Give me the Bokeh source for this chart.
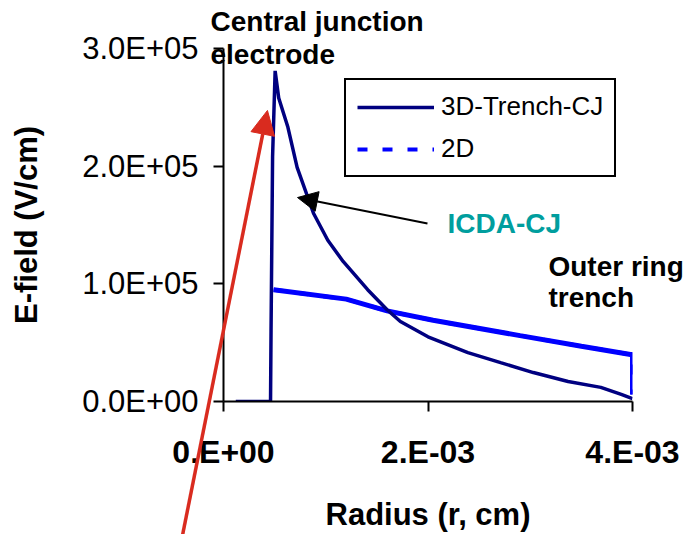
from bokeh.plotting import figure
from bokeh.layouts import column
from bokeh.models import (Range1d, FixedTicker, Legend, LegendItem, Label,
                          Arrow, NormalHead, ColumnDataSource)
from bokeh.embed import file_html
from bokeh.resources import INLINE

# Radius in units of 1e-3 cm, electric field in units of 1e5 V/cm
trench_r = [0.12, 0.46, 0.465, 0.48, 0.505, 0.54, 0.63, 0.72, 0.88, 1.02, 1.17,
            1.41, 1.60, 1.73, 2.00, 2.39, 2.71, 3.03, 3.37, 3.69, 3.89, 4.00]
trench_e = [0.0, 0.0, 0.6, 2.08, 2.81, 2.58, 2.33, 1.99, 1.60, 1.37, 1.19,
            0.95, 0.78, 0.68, 0.55, 0.415, 0.33, 0.246, 0.17, 0.12, 0.06, 0.025]

planar_r = [0.49, 1.2, 1.6, 2.05, 2.9, 3.5, 3.98, 4.0, 4.0]
planar_e = [0.95, 0.87, 0.77, 0.69, 0.56, 0.47, 0.40, 0.40, 0.06]

x_ticks = [0.0, 0.002, 0.004]
x_tick_labels = ["0.E+00", "2.E-03", "4.E-03"]
y_ticks = [0.0, 100000.0, 200000.0, 300000.0]
y_tick_labels = ["0.0E+00", "1.0E+05", "2.0E+05", "3.0E+05"]

FONT = "Liberation Sans"
NAVY = "#000080"
BLUE = "#0000FF"
RED = "#D92B1F"

# page and plot-frame geometry
W, H = 685, 534
LEFT, RIGHT, TOP, BOTTOM = 223, 53, 48, 132
X0, X1 = 0.0, 0.004
Y0, Y1 = 0.0, 300000.0

trench_src = ColumnDataSource(dict(r=[v * 1e-3 for v in trench_r],
                                   e=[v * 1e5 for v in trench_e]))
planar_src = ColumnDataSource(dict(r=[v * 1e-3 for v in planar_r],
                                   e=[v * 1e5 for v in planar_e]))

p = figure(width=W, height=H, output_backend="svg", toolbar_location=None,
           x_range=Range1d(X0, X1), y_range=Range1d(Y0, Y1),
           min_border_left=LEFT, min_border_right=RIGHT,
           min_border_top=TOP, min_border_bottom=BOTTOM)
p.frame_align = False
p.outline_line_color = None
p.xgrid.visible = False
p.ygrid.visible = False
p.background_fill_color = "white"
p.border_fill_color = "white"

# axes
for ax in (p.xaxis[0], p.yaxis[0]):
    ax.axis_line_color = "black"
    ax.axis_line_width = 2
    ax.major_tick_line_color = "black"
    ax.major_tick_line_width = 2
    ax.major_tick_out = 10
    ax.major_tick_in = 0
    ax.minor_tick_line_color = None
    ax.major_label_text_font = FONT
    ax.major_label_text_color = "black"
    ax.axis_label_text_font = FONT
    ax.axis_label_text_font_style = "bold"
    ax.axis_label_text_color = "black"

p.xaxis.ticker = FixedTicker(ticks=x_ticks)
p.xaxis.major_label_overrides = dict(zip(x_ticks, x_tick_labels))
p.xaxis.major_label_text_font_size = "32px"
p.xaxis.major_label_text_font_style = "bold"
p.xaxis.major_label_standoff = 22
p.xaxis.axis_label = "Radius (r, cm)"
p.xaxis.axis_label_text_font_size = "31px"
p.xaxis.axis_label_standoff = 24

p.yaxis.ticker = FixedTicker(ticks=y_ticks)
p.yaxis.major_label_overrides = dict(zip(y_ticks, y_tick_labels))
p.yaxis.major_label_text_font_size = "31px"
p.yaxis.major_label_standoff = 15
p.yaxis.axis_label = "E-field (V/cm)"
p.yaxis.axis_label_text_font_size = "31px"
p.yaxis.axis_label_standoff = 35

# 2D simulation: dashed copy for the legend sits under the solid trace
planar_key = p.line("r", "e", source=planar_src, line_color=BLUE,
                    line_width=4, line_dash="10 15")
p.line("r", "e", source=planar_src, line_color=BLUE, line_width=5)

# 3D trench with central junction
trench_line = p.line("r", "e", source=trench_src, line_color=NAVY, line_width=3.5)

legend = Legend(items=[LegendItem(label="3D-Trench-CJ", renderers=[trench_line]),
                       LegendItem(label="2D", renderers=[planar_key])],
                location=(121, 224))
legend.border_line_color = "black"
legend.border_line_width = 2
legend.border_line_alpha = 1
legend.background_fill_color = "white"
legend.background_fill_alpha = 1
legend.label_text_font = FONT
legend.label_text_font_size = "26px"
legend.label_text_color = "black"
legend.glyph_width = 77
legend.glyph_height = 20
legend.label_standoff = 7
legend.padding = 11
legend.spacing = 11
legend.margin = 0
p.add_layout(legend)

# Transparent layer over the whole page, sharing the data scale of the plot
# frame, so callouts and arrows may run past the axes.
dx = (X1 - X0) / (W - LEFT - RIGHT)
dy = (Y1 - Y0) / (H - TOP - BOTTOM)
ov = figure(width=W, height=H, output_backend="svg", toolbar_location=None,
            x_range=Range1d(X0 - LEFT * dx, X1 + RIGHT * dx),
            y_range=Range1d(Y0 - BOTTOM * dy, Y1 + TOP * dy),
            x_axis_location=None, y_axis_location=None, min_border=0,
            styles={"position": "absolute", "left": "0px", "top": "0px"})
ov.frame_align = False
ov.outline_line_color = None
ov.background_fill_color = None
ov.border_fill_color = None
ov.xgrid.visible = False
ov.ygrid.visible = False

def note(x, y, text, color="black"):
    ov.add_layout(Label(x=x, y=y, text=text, text_font=FONT, text_font_style="bold",
                        text_font_size="28px", text_color=color,
                        text_baseline="alphabetic", text_align="left"))

note(-0.000127, 323100, "Central junction")
note(-0.000127, 294900, "electrode")
note(0.002191, 151700, "ICDA-CJ", color="#009E9E")
note(0.003178, 115200, "Outer ring")
note(0.003178, 89000, "trench")

ov.add_layout(Arrow(x_start=0.001995, y_start=151700, x_end=0.000724, y_end=173700,
                    line_color="black", line_width=2,
                    end=NormalHead(size=20, fill_color="black", line_color="black")))
ov.add_layout(Arrow(x_start=-0.000421, y_start=-121200, x_end=0.00043, y_end=247500,
                    line_color=RED, line_width=3.5,
                    end=NormalHead(size=24, fill_color=RED, line_color=RED)))

page = column(p, ov)
open("out.html", "w").write(file_html(page, INLINE))
